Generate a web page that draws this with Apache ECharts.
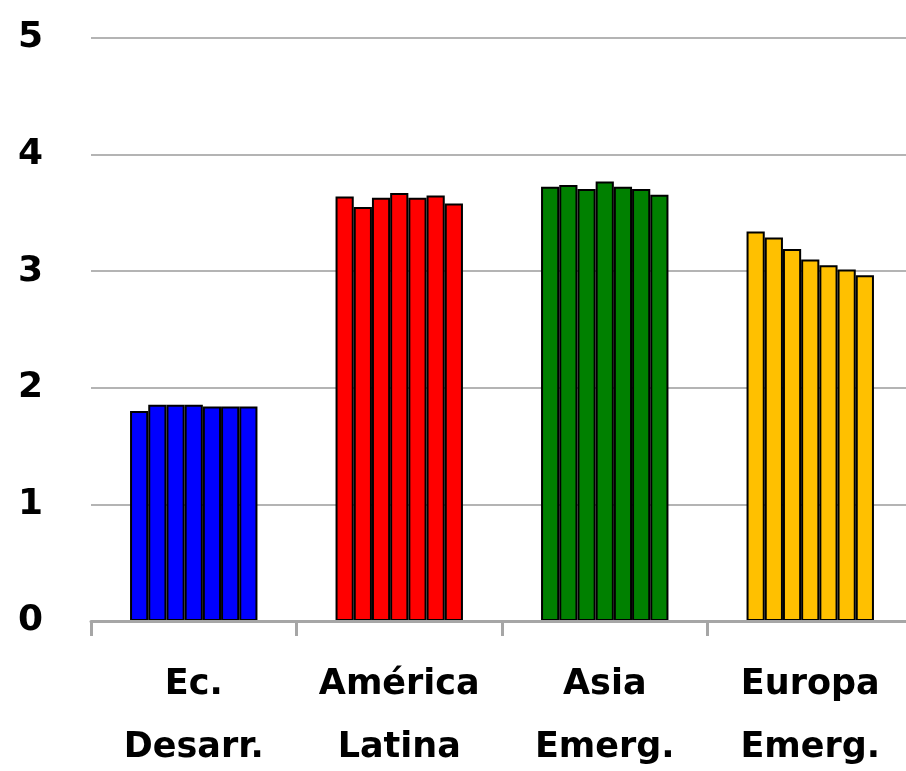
<!DOCTYPE html>
<html>
<head>
<meta charset="utf-8">
<script src="https://cdn.jsdelivr.net/npm/echarts@6/dist/echarts.min.js"></script>
<style>
    html, body { margin: 0; padding: 0; background: #fff; }
    #chart { width: 906px; height: 771px; }
</style>
</head>
<body>
<div id="chart"></div>
<script>
    // categorias del eje x
    var categories = ['Ec.\nDesarr.', 'América\nLatina', 'Asia\nEmerg.', 'Europa\nEmerg.'];
    // 7 barras por region
    var ecDesarr = [1.80, 1.855, 1.855, 1.855, 1.84, 1.84, 1.84];
    var americaLatina = [3.64, 3.55, 3.63, 3.67, 3.63, 3.65, 3.58];
    var asiaEmerg = [3.725, 3.74, 3.705, 3.77, 3.725, 3.705, 3.655];
    var europaEmerg = [3.34, 3.29, 3.19, 3.10, 3.05, 3.015, 2.965];
    var regionColors = ['#0000ff', '#ff0000', '#008000', '#ffc000'];
    var yTicks = [0, 1, 2, 3, 4, 5];

    var font = 'DejaVu Sans';
    var chart = echarts.init(document.getElementById('chart'));

    var series = [];
    for (var i = 0; i < ecDesarr.length; i++) {
        series.push({
            type: 'bar',
            barGap: '0%',
            barCategoryGap: '38%',
            data: [ecDesarr[i], americaLatina[i], asiaEmerg[i], europaEmerg[i]],
            itemStyle: {
                color: function (p) { return regionColors[p.dataIndex]; },
                borderColor: '#000',
                borderWidth: 2
            },
            z: 2
        });
    }

    chart.setOption({
        animation: false,
        grid: { left: 91, right: -7, top: 38, bottom: 150, outerBoundsMode: 'none', containLabel: false },
        xAxis: {
            type: 'category',
            data: categories,
            z: 3,
            axisLine: { lineStyle: { color: '#a6a6a6', width: 3 } },
            axisTick: { show: true, length: 15, lineStyle: { color: '#a6a6a6', width: 3 } },
            axisLabel: {
                color: '#000',
                fontFamily: font,
                fontWeight: 'bold',
                fontSize: 35,
                lineHeight: 63,
                margin: 32,
                interval: 0
            }
        },
        yAxis: {
            type: 'value',
            min: yTicks[0],
            max: yTicks[yTicks.length - 1],
            interval: 1,
            axisLine: { show: false },
            axisTick: { show: false },
            axisLabel: {
                color: '#000',
                fontFamily: font,
                fontWeight: 'bold',
                fontSize: 36,
                align: 'left',
                margin: 73
            },
            splitLine: { lineStyle: { color: '#b4b4b4', width: 2 } }
        },
        series: series
    });
</script>
</body>
</html>
